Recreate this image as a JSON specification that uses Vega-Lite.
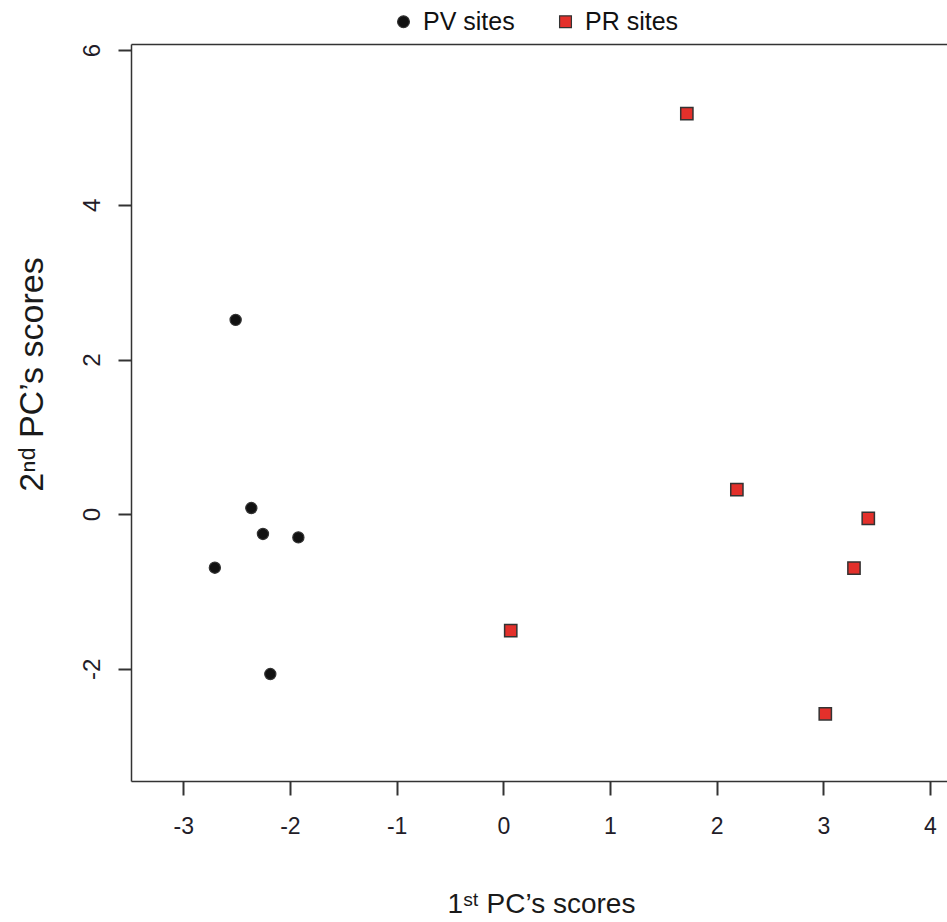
{
  "$schema": "https://vega.github.io/schema/vega-lite/v6.json",
  "width": 816,
  "height": 737,
  "autosize": {"type": "none"},
  "padding": {"left": 131, "top": 44, "right": 0, "bottom": 141},
  "background": "white",
  "config": {
    "view": {"stroke": null},
    "font": "Liberation Sans",
    "axis": {
      "grid": false,
      "domainColor": "#333333",
      "domainWidth": 1.5,
      "tickColor": "#333333",
      "tickWidth": 2,
      "labelColor": "#221c28",
      "labelFont": "Liberation Sans",
      "labelFontSize": 23,
      "labelFlush": false,
      "labelOverlap": false,
      "titleFont": "Liberation Sans",
      "titleFontWeight": "normal",
      "titleColor": "#1a1a1a",
      "titleFontSize": 28
    }
  },
  "data": {
    "values": [
      {"site": "PV sites", "pc1": -2.509, "pc2": 2.512},
      {"site": "PV sites", "pc1": -2.362, "pc2": 0.080},
      {"site": "PV sites", "pc1": -2.253, "pc2": -0.256},
      {"site": "PV sites", "pc1": -1.921, "pc2": -0.300},
      {"site": "PV sites", "pc1": -2.704, "pc2": -0.692},
      {"site": "PV sites", "pc1": -2.184, "pc2": -2.067},
      {"site": "PR sites", "pc1": 1.721, "pc2": 5.181},
      {"site": "PR sites", "pc1": 2.190, "pc2": 0.317},
      {"site": "PR sites", "pc1": 3.422, "pc2": -0.054},
      {"site": "PR sites", "pc1": 3.288, "pc2": -0.696},
      {"site": "PR sites", "pc1": 0.070, "pc2": -1.507},
      {"site": "PR sites", "pc1": 3.019, "pc2": -2.581}
    ]
  },
  "layer": [
    {
      "transform": [{"filter": "datum.site === 'PV sites'"}],
      "mark": {"type": "point", "filled": true, "opacity": 1, "stroke": "#333333", "strokeWidth": 1.2},
      "encoding": {
        "x": {
          "field": "pc1", "type": "quantitative",
          "scale": {"domain": [-3.49, 4.16], "nice": false, "zero": false},
          "axis": {
            "orient": "bottom",
            "values": [-3, -2, -1, 0, 1, 2, 3, 4],
            "labelExpr": "'' + datum.value",
            "tickSize": 14,
            "labelPadding": 20,
            "labelBaseline": "top",
            "title": "1ˢᵗ PC’s scores",
            "titleX": 410,
            "titleY": 131,
            "titleAlign": "center",
            "titleBaseline": "alphabetic"
          }
        },
        "y": {
          "field": "pc2", "type": "quantitative",
          "scale": {"domain": [-3.45, 6.08], "nice": false, "zero": false},
          "axis": {
            "orient": "left",
            "values": [-2, 0, 2, 4, 6],
            "labelExpr": "'' + datum.value",
            "labelAngle": -90,
            "labelAlign": "center",
            "labelBaseline": "middle",
            "labelFontSize": 24,
            "tickSize": 13,
            "labelPadding": 26,
            "title": "2ⁿᵈ PC’s scores",
            "titleFontSize": 34,
            "titleAngle": -90,
            "titleX": -99,
            "titleY": 330,
            "titleAlign": "center",
            "titleBaseline": "middle"
          }
        },
        "color": {
          "field": "site", "type": "nominal",
          "scale": {"domain": ["PV sites", "PR sites"], "range": ["#111111", "#e3302b"]},
          "legend": {
            "orient": "none",
            "direction": "horizontal",
            "legendX": 260,
            "legendY": -35,
            "title": null,
            "labelFontSize": 25,
            "labelFont": "Liberation Sans",
            "labelColor": "#111111",
            "symbolSize": 140,
            "columnPadding": 38,
            "labelOffset": 7,
            "symbolStrokeWidth": 1.2
          }
        },
        "shape": {
          "field": "site", "type": "nominal",
          "scale": {"domain": ["PV sites", "PR sites"], "range": ["circle", "square"]},
          "legend": null
        },
        "size": {"value": 125}
      }
    },
    {
      "transform": [{"filter": "datum.site === 'PR sites'"}],
      "mark": {"type": "point", "filled": true, "opacity": 1, "stroke": "#333333", "strokeWidth": 1.5},
      "encoding": {
        "x": {
          "field": "pc1", "type": "quantitative",
          "axis": {"orient": "top", "ticks": false, "labels": false, "title": null, "domain": true}
        },
        "y": {"field": "pc2", "type": "quantitative"},
        "color": {"field": "site", "type": "nominal"},
        "shape": {"field": "site", "type": "nominal"},
        "size": {"value": 150}
      }
    }
  ],
  "resolve": {"axis": {"x": "independent"}}
}
